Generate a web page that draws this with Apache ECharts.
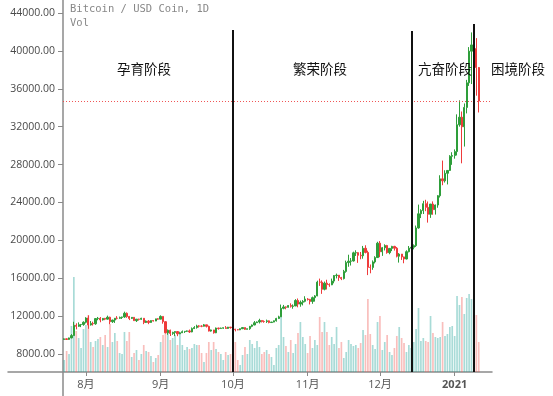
<!DOCTYPE html>
<html>
<head>
<meta charset="utf-8">
<script src="https://cdn.jsdelivr.net/npm/echarts@6/dist/echarts.min.js"></script>
<style>
html,body{margin:0;padding:0;background:#fff;}
#chart{width:553px;height:396px;}
</style>
</head>
<body>
<div id="chart"></div>
<script>
// ---- data (BTC / USDC, daily, from 2020-07-23) ----
var startDate = '2020-07-23';
var totalSlots = 178; // visible day slots on the x axis

var openP = [
9530,9600,9540,9700,9940,11030,10920,11100,11110,11350,
11800,11070,11230,11190,11740,11770,11600,11760,11680,11880,
11410,11580,11780,11770,11860,11910,12300,11960,11760,11870,
11520,11680,11660,11770,11330,11470,11330,11530,11480,11710,
11680,11970,11410,10250,10510,10170,10280,10370,10130,10240,
10360,10400,10440,10330,10680,10790,10960,10940,10930,11080,
10920,10420,10540,10240,10740,10690,10730,10770,10700,10840,
10780,10620,10570,10550,10670,10790,10600,10670,10920,11060,
11300,11380,11540,11430,11430,11500,11320,11370,11510,11750,
11920,12820,12970,12930,13120,13030,13070,13650,13270,13460,
13560,13800,13760,13550,13950,14130,15590,15580,14830,15480,
15330,15300,15700,16280,16320,16070,15960,16720,17650,17800,
17820,18680,18700,18420,18370,19160,18720,17150,17140,17720,
18180,19700,18790,19220,19450,18700,19150,19360,19170,18320,
18550,18250,18030,18800,19170,19270,19440,21310,22800,23140,
23870,23480,22750,23830,23240,23730,24710,26490,26280,27080,
27380,28880,28950,29370,32200,33000,31990,34030,36630,39970,
40630,40240,38240];

var closeP = [
9600,9540,9700,9940,11030,10920,11100,11110,11350,11800,
11070,11230,11190,11740,11770,11600,11760,11680,11880,11410,
11580,11780,11770,11860,11910,12300,11960,11760,11870,11520,
11680,11660,11770,11330,11470,11330,11530,11480,11710,11680,
11970,11410,10250,10510,10170,10280,10370,10130,10240,10360,
10400,10440,10330,10680,10790,10960,10940,10930,11080,10920,
10420,10540,10240,10740,10690,10730,10770,10700,10840,10780,
10620,10570,10550,10670,10790,10600,10670,10920,11060,11300,
11380,11540,11430,11420,11500,11320,11370,11510,11750,11920,
12820,12970,12930,13120,13030,13070,13650,13270,13460,13560,
13800,13760,13550,13950,14130,15590,15580,14830,15480,15330,
15300,15700,16280,16320,16070,15960,16720,17650,17800,17820,
18680,18700,18420,18370,19160,18720,17150,17140,17720,18180,
19700,18790,19220,19450,18700,19150,19360,19170,18320,18550,
18250,18030,18800,19170,19270,19440,21310,22800,23140,23870,
23480,22750,23830,23240,23730,24710,26490,26280,27080,27380,
28880,28950,29370,32200,33000,31990,34030,36630,39970,40630,
40240,38240,34700];

var lowP = [
9480,9480,9510,9660,9920,10600,10860,10840,10980,11230,
10660,11000,11000,11080,11560,11350,11530,11570,11640,11150,
11280,11280,11650,11700,11700,11820,11820,11580,11700,11500,
11380,11530,11600,11150,11270,11150,11290,11430,11470,11620,
11680,11200,10170,10030,9900,10020,9890,9880,10100,10220,
10220,10330,10220,10290,10640,10680,10790,10830,10900,10800,
10380,10360,10150,10200,10570,10650,10660,10660,10650,10680,
10440,10390,10510,10520,10630,10560,10590,10550,10830,11040,
11290,11220,11330,11300,11280,11240,11310,11350,11420,11690,
11900,12720,12720,12900,12900,12780,13060,12930,12990,13130,
13460,13640,13230,13300,13530,14100,15190,14350,14720,14810,
15090,15270,15460,15980,15720,15800,15870,16580,17210,17340,
17760,18350,17620,18000,18060,18620,16330,16520,16890,17560,
18150,18220,18360,18930,18590,18530,18860,18920,18200,17650,
17930,17580,17990,18730,19000,19050,19300,21230,22350,22780,
23080,21870,22370,22700,22720,23440,24520,25820,26100,25900,
27320,27970,28620,28960,32000,28130,29900,33400,36300,36500,
38720,35270,33500];

var highP = [
9650,9640,9730,10100,11400,11240,11340,11170,11450,11880,
12080,11480,11410,11790,11910,11900,11800,11810,12050,11940,
11620,11790,12000,11950,11940,12470,12390,12020,11900,11890,
11690,11720,11830,11780,11540,11580,11550,11580,11720,11780,
12080,11980,11460,10590,10570,10350,10400,10420,10350,10480,
10410,10480,10580,10800,10940,11090,11040,11030,11170,11080,
10990,10580,10550,10790,10770,10790,10800,10950,10860,10850,
10920,10660,10620,10690,10800,10800,10690,10960,11110,11480,
11440,11720,11560,11550,11630,11540,11400,11530,11820,12040,
13220,13180,13030,13160,13350,13240,13790,13860,13640,13690,
14100,13900,13820,14060,14220,15740,15960,15770,15650,15840,
15460,15960,16340,16490,16330,16140,16880,17860,18480,18130,
18800,18950,18760,18770,19410,19480,18910,17450,17880,18320,
19850,19920,19300,19580,19520,19180,19420,19420,19290,18650,
18560,18280,18950,19400,19350,19570,21560,23770,23280,24170,
24280,24100,23840,24110,23780,24780,26870,28420,27400,27400,
28990,29300,29600,33300,34780,33600,34450,36940,40400,41950,
41350,41350,38300];

var volume = [
12,21,18,46,95,41,34,24,43,47,
57,30,25,31,33,35,27,37,25,48,
30,39,31,19,18,40,31,40,15,19,
22,12,18,27,21,20,16,10,14,17,
30,37,49,41,32,34,37,27,39,27,
22,25,23,24,28,27,27,19,10,19,
30,22,30,23,20,18,12,20,17,18,
34,30,12,7,17,25,18,32,28,24,
31,25,18,20,22,18,15,7,24,27,
55,35,26,20,32,19,28,39,50,35,
28,19,36,24,32,27,55,40,50,40,
27,35,28,45,24,30,14,20,32,28,
26,27,24,29,42,37,73,38,27,23,
50,56,22,30,37,20,17,24,36,45,
34,29,20,27,24,30,43,64,31,34,
31,30,56,39,35,34,35,50,36,38,
45,46,36,76,67,75,58,74,78,73,
80,57,30];

var yTicks = [8000, 44000, 4000]; // min, max, step of price axis
var currentPrice = 34700;
var dividerDates = ['2020-10-01', '2020-12-14', '2021-01-09'];
var dividerTops = [342, 341, 348];  // in volume-axis units
var stageNames = ['孕育阶段', '繁荣阶段', '亢奋阶段', '困境阶段'];
var chartTitle = 'Bitcoin / USD Coin, 1D';
var volTitle = 'Vol';

// ---- build categories ----
var dates = [];
(function () {
  var d0 = new Date(startDate + 'T00:00:00Z').getTime();
  for (var i = 0; i < totalSlots; i++) {
    var d = new Date(d0 + i * 86400000);
    var s = d.getUTCFullYear() + '-' + String(d.getUTCMonth() + 1).padStart(2, '0') + '-' + String(d.getUTCDate()).padStart(2, '0');
    dates.push(s);
  }
})();

var UP = '#2e9e3a', DOWN = '#ef3b3b';
var UPV = 'rgba(38,166,154,0.4)', DOWNV = 'rgba(239,83,80,0.38)';

var candleData = [];
var volData = [];
for (var i = 0; i < openP.length; i++) {
  candleData.push([openP[i], closeP[i], lowP[i], highP[i]]);
  var up = closeP[i] >= openP[i];
  volData.push({ value: volume[i], itemStyle: { color: up ? UPV : DOWNV } });
}

var axisGray = '#8a8a8a';
var labelFont = "'Open Sans', 'Noto Sans CJK SC', sans-serif";

var chart = echarts.init(document.getElementById('chart'), null, { renderer: 'canvas' });

var stagePos = [[144, 69], [320, 69], [445, 69], [518, 69]];

var option = {
  animation: false,
  backgroundColor: '#fff',
  grid: [
    { left: 63, right: 61, top: 13, bottom: 42 },   // price
    { left: 63, right: 61, top: 0, bottom: 24 },    // volume + x labels
    { left: 8, right: 61, top: 0, bottom: 24 },     // extended x axis line
    { left: 63, right: 61, top: 0, bottom: 0 }      // extended y axis line
  ],
  xAxis: [
    { type: 'category', gridIndex: 0, data: dates, boundaryGap: true, show: false },
    {
      type: 'category', gridIndex: 1, data: dates, boundaryGap: true,
      axisLine: { show: false },
      axisTick: { show: true, alignWithLabel: true, length: 4, lineStyle: { color: axisGray } },
      axisLabel: {
        margin: 7,
        color: '#555',
        fontSize: 11,
        fontFamily: labelFont,
        interval: function (idx, val) { return val.slice(8) === '01'; },
        formatter: function (val) {
          var m = +val.slice(5, 7);
          if (m === 1) return '{y|' + val.slice(0, 4) + '}';
          return m + '月';
        },
        rich: { y: { fontWeight: 'bold', color: '#555', fontSize: 11, fontFamily: labelFont } }
      },
      splitLine: { show: false }
    },
    { type: 'value', gridIndex: 2, show: true, axisLine: { show: true, onZero: false, lineStyle: { color: axisGray, width: 1.5 } },
      axisTick: { show: false }, axisLabel: { show: false }, splitLine: { show: false } },
    { type: 'value', gridIndex: 3, show: false }
  ],
  yAxis: [
    {
      type: 'value', gridIndex: 0, min: yTicks[0], max: yTicks[1], interval: yTicks[2],
      axisLine: { show: false },
      axisTick: { show: true, length: 5, lineStyle: { color: axisGray } },
      axisLabel: {
        margin: 8, color: '#4a4a4a', fontSize: 10.5, fontFamily: labelFont,
        formatter: function (v) { return v.toFixed(2); }
      },
      splitLine: { show: false }
    },
    { type: 'value', gridIndex: 1, min: 0, max: 372, show: false },
    { type: 'value', gridIndex: 2, show: false },
    { type: 'value', gridIndex: 3, show: true, axisLine: { show: true, lineStyle: { color: axisGray, width: 1.5 } },
      axisTick: { show: false }, axisLabel: { show: false }, splitLine: { show: false } }
  ],
  series: [
    {
      type: 'bar', xAxisIndex: 1, yAxisIndex: 1, data: volData, barWidth: '70%', z: 1,
      markLine: {
        symbol: ['none', 'none'], silent: true, z: 6,
        label: { show: false },
        lineStyle: { color: '#111', width: 2, type: 'solid' },
        data: dividerDates.map(function (d, k) {
          return [{ coord: [d, 0] }, { coord: [d, dividerTops[k]] }];
        })
      }
    },
    {
      type: 'candlestick', xAxisIndex: 0, yAxisIndex: 0, data: candleData, barWidth: '72%', z: 3,
      itemStyle: { color: UP, color0: DOWN, borderColor: UP, borderColor0: DOWN, borderWidth: 1 },
      markLine: {
        symbol: ['none', 'none'], silent: true,
        label: { show: false },
        lineStyle: { color: '#ee4444', width: 1, type: [1, 2], opacity: 0.9 },
        data: [{ yAxis: currentPrice }]
      }
    }
  ],
  graphic: [
    { type: 'text', left: 70, top: 4, z: 10, style: { text: chartTitle, fill: '#888', font: "10.5px 'DejaVu Sans Mono', monospace" } },
    { type: 'text', left: 70, top: 18, z: 10, style: { text: volTitle, fill: '#888', font: "10.5px 'DejaVu Sans Mono', monospace" } }
  ].concat(stageNames.map(function (t, k) {
    return { type: 'text', x: stagePos[k][0], y: stagePos[k][1], z: 10,
      style: { text: t, fill: '#111', font: "13.5px 'Noto Sans CJK SC', sans-serif", align: 'center', verticalAlign: 'middle' } };
  }))
};

chart.setOption(option);
</script>
</body>
</html>
